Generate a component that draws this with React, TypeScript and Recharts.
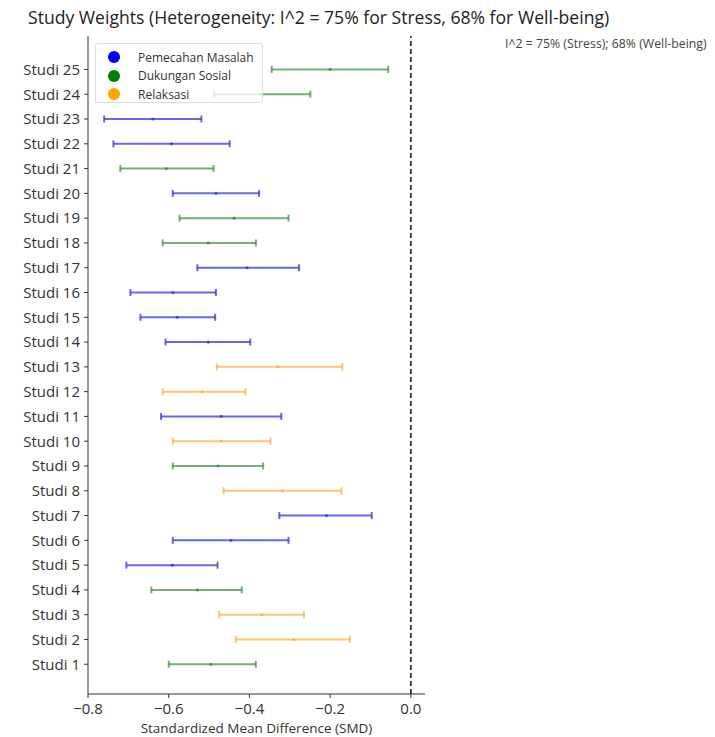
import React from 'react';
import {
  ScatterChart,
  Scatter,
  XAxis,
  YAxis,
  ErrorBar,
  ReferenceLine,
} from 'recharts';

// study order from bottom (Studi 1) to top (Studi 25)
const studies = [
  'Studi 1', 'Studi 2', 'Studi 3', 'Studi 4', 'Studi 5', 'Studi 6', 'Studi 7',
  'Studi 8', 'Studi 9', 'Studi 10', 'Studi 11', 'Studi 12', 'Studi 13', 'Studi 14',
  'Studi 15', 'Studi 16', 'Studi 17', 'Studi 18', 'Studi 19', 'Studi 20', 'Studi 21',
  'Studi 22', 'Studi 23', 'Studi 24', 'Studi 25',
];

const groupOf = [
  'Dukungan Sosial', 'Relaksasi', 'Relaksasi', 'Dukungan Sosial', 'Pemecahan Masalah',
  'Pemecahan Masalah', 'Pemecahan Masalah', 'Relaksasi', 'Dukungan Sosial', 'Relaksasi',
  'Pemecahan Masalah', 'Relaksasi', 'Relaksasi', 'Pemecahan Masalah', 'Pemecahan Masalah',
  'Pemecahan Masalah', 'Pemecahan Masalah', 'Dukungan Sosial', 'Dukungan Sosial',
  'Pemecahan Masalah', 'Dukungan Sosial', 'Pemecahan Masalah', 'Pemecahan Masalah',
  'Dukungan Sosial', 'Dukungan Sosial',
];

const smd = [
  -0.496, -0.29, -0.369, -0.529, -0.591, -0.446, -0.209, -0.318, -0.478, -0.47,
  -0.47, -0.517, -0.33, -0.502, -0.579, -0.59, -0.406, -0.502, -0.438, -0.483,
  -0.606, -0.593, -0.639, -0.37, -0.2,
];

const ciLow = [
  -0.6, -0.434, -0.475, -0.643, -0.705, -0.59, -0.326, -0.464, -0.59, -0.59,
  -0.619, -0.615, -0.481, -0.608, -0.67, -0.695, -0.529, -0.615, -0.573, -0.59,
  -0.72, -0.737, -0.76, -0.488, -0.345,
];

const ciHigh = [
  -0.384, -0.151, -0.265, -0.419, -0.479, -0.303, -0.097, -0.172, -0.366, -0.348,
  -0.321, -0.41, -0.17, -0.398, -0.485, -0.483, -0.277, -0.384, -0.303, -0.376,
  -0.489, -0.449, -0.519, -0.249, -0.056,
];

const groups = ['Pemecahan Masalah', 'Dukungan Sosial', 'Relaksasi'];
const groupColors = ['#0000ff', '#008000', '#ffa500'];
const lineColors = ['rgba(40,40,230,0.7)', 'rgba(30,120,30,0.6)', 'rgba(245,170,40,0.65)'];

const xTicks = [-0.8, -0.6, -0.4, -0.2, 0.0];

const FONT = '"Open Sans", sans-serif';

const rows = studies.map((name, i) => ({
  name,
  idx: i + 1,
  group: groupOf[i],
  mid: smd[i],
  err: [smd[i] - ciLow[i], ciHigh[i] - smd[i]],
}));

const fmt = (v: number) => (v < 0 ? '\u2212' : '') + Math.abs(v).toFixed(1);

export default function App() {
  return (
    <div
      style={{
        position: 'absolute',
        left: 0,
        top: 0,
        width: 715,
        height: 737,
        background: '#fff',
        fontFamily: FONT,
      }}
    >
      <div
        style={{
          position: 'absolute',
          left: 28,
          top: 5,
          fontSize: 17.6,
          color: '#222',
          whiteSpace: 'nowrap',
        }}
      >
        Study Weights (Heterogeneity: I^2 = 75% for Stress, 68% for Well-being)
      </div>
      <div
        style={{
          position: 'absolute',
          left: 505,
          top: 35,
          fontSize: 12.3,
          color: '#444',
          whiteSpace: 'nowrap',
        }}
      >
        I^2 = 75% (Stress); 68% (Well-being)
      </div>

      <ScatterChart
        width={715}
        height={737}
        margin={{ top: 36, right: 290, bottom: 0, left: 0 }}
      >
        <XAxis
          type="number"
          dataKey="mid"
          domain={[-0.8, 0.035]}
          ticks={xTicks}
          tickFormatter={fmt}
          allowDataOverflow
          height={43}
          stroke="#333"
          tick={{ fill: '#333', fontSize: 15, fontFamily: FONT }}
          tickSize={4}
          tickMargin={5}
          label={{
            value: 'Standardized Mean Difference (SMD)',
            position: 'insideBottom',
            offset: 4,
            fill: '#333',
            fontSize: 13.5,
            fontFamily: FONT,
          }}
        />
        <YAxis
          type="number"
          dataKey="idx"
          domain={[-0.2, 26.35]}
          ticks={rows.map((r) => r.idx)}
          tickFormatter={(v: number) => studies[v - 1]}
          interval={0}
          allowDataOverflow
          width={88}
          stroke="#333"
          tick={{ fill: '#333', fontSize: 15, fontFamily: FONT }}
          tickSize={4}
          tickMargin={4}
        />
        <ReferenceLine x={0} stroke="#111" strokeWidth={1.5} strokeDasharray="5 3" />
        {groups.map((g, gi) => (
          <Scatter
            key={g}
            name={g}
            data={rows.filter((r) => r.group === g)}
            isAnimationActive={false}
            shape={(p: any) => (
              <circle cx={p.cx} cy={p.cy} r={1.6} fill={lineColors[gi]} />
            )}
          >
            <ErrorBar
              dataKey="err"
              direction="x"
              width={3.5}
              stroke={lineColors[gi]}
              strokeWidth={2}
              isAnimationActive={false}
            />
          </Scatter>
        ))}
      </ScatterChart>

      <div
        style={{
          position: 'absolute',
          left: 95,
          top: 43,
          width: 168,
          height: 60,
          boxSizing: 'border-box',
          border: '1px solid #ddd',
          borderRadius: 3,
          background: 'rgba(255,255,255,0.8)',
          paddingTop: 4,
        }}
      >
        {groups.map((g, gi) => (
          <div
            key={g}
            style={{ display: 'flex', alignItems: 'center', height: 18.5, paddingLeft: 12 }}
          >
            <span
              style={{
                width: 12,
                height: 12,
                borderRadius: 6,
                background: groupColors[gi],
                display: 'inline-block',
              }}
            />
            <span style={{ marginLeft: 18, fontSize: 12, color: '#333' }}>{g}</span>
          </div>
        ))}
      </div>
    </div>
  );
}
